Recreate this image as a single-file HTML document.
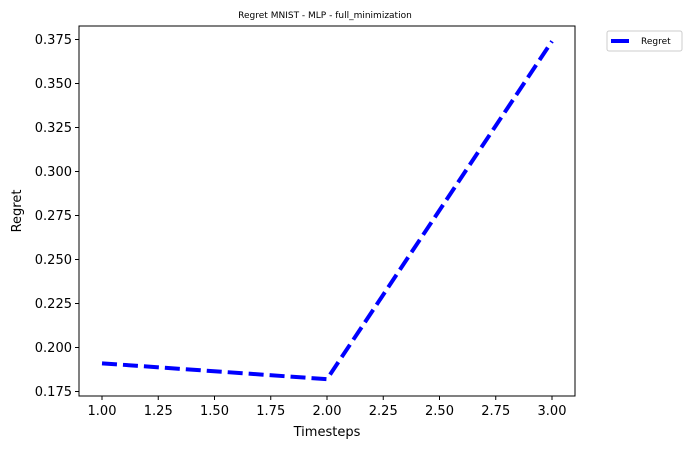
<!DOCTYPE html>
<html><head><meta charset="utf-8"><style>
body{margin:0;background:#fff;}
svg{font-family:"DejaVu Sans","Liberation Sans",sans-serif;}
</style></head><body>
<svg id="chart" width="692" height="449">
<text x="325" y="18" font-size="9" text-anchor="middle">Regret MNIST - MLP - full_minimization</text>
<g id="ticks"></g>
<rect x="79" y="26" width="496" height="370" fill="none" stroke="#000" stroke-width="1"/>
<polyline id="line" fill="none" stroke="#0000ff" stroke-width="4" stroke-dasharray="15,6"/>
<text x="327" y="436" font-size="13" text-anchor="middle">Timesteps</text>
<text x="21" y="211" font-size="13" text-anchor="middle" transform="rotate(-90 21 211)">Regret</text>
<g>
<rect x="607" y="31" width="75" height="20" rx="2" fill="#fff" stroke="#ccc"/>
<line x1="611" y1="41" x2="629" y2="41" stroke="#0000ff" stroke-width="4"/>
<text x="641" y="44" font-size="9">Regret</text>
</g>
</svg>
<script>
const xs=[1,2,3];
const regret=[0.191,0.182,0.374];
const xTicks=[1.00,1.25,1.50,1.75,2.00,2.25,2.50,2.75,3.00];
const yTicks=[0.175,0.200,0.225,0.250,0.275,0.300,0.325,0.350,0.375];
function X(v){return 102+(v-1)*225;}
function Y(v){return 391.5-(v-0.175)*1760;}
const g=document.getElementById('ticks');
const NS='http://www.w3.org/2000/svg';
xTicks.forEach(t=>{
 const l=document.createElementNS(NS,'line');
 l.setAttribute('x1',X(t));l.setAttribute('x2',X(t));l.setAttribute('y1',396);l.setAttribute('y2',400);l.setAttribute('stroke','#000');
 
 
 g.appendChild(l);
 const tx=document.createElementNS(NS,'text');
 tx.setAttribute('x',X(t));tx.setAttribute('y',415);tx.setAttribute('font-size','13');tx.setAttribute('text-anchor','middle');
 tx.textContent=t.toFixed(2);
 
 
 g.appendChild(tx);
});
yTicks.forEach(t=>{
 const l=document.createElementNS(NS,'line');
 l.setAttribute('x1',75);l.setAttribute('x2',79);l.setAttribute('y1',Y(t));l.setAttribute('y2',Y(t));l.setAttribute('stroke','#000');
 
 
 g.appendChild(l);
 const tx=document.createElementNS(NS,'text');
 tx.setAttribute('x',72);tx.setAttribute('y',Y(t)+4.5);tx.setAttribute('font-size','13');tx.setAttribute('text-anchor','end');
 tx.textContent=t.toFixed(3);
 
 
 g.appendChild(tx);
});
document.getElementById('line').setAttribute('points',xs.map((x,i)=>X(x)+','+Y(regret[i])).join(' '));
</script>
</body></html>
